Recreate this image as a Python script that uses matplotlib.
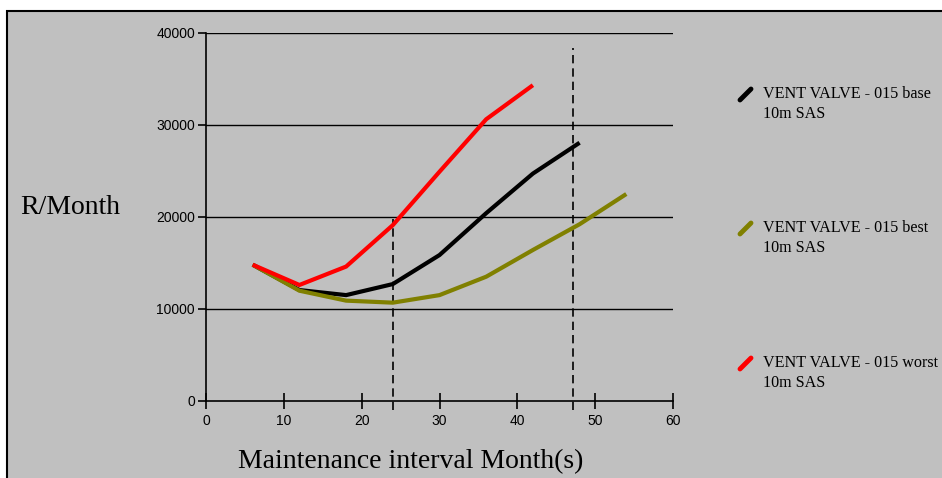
import matplotlib
matplotlib.use("Agg")
import matplotlib.pyplot as plt
from matplotlib.lines import Line2D
from matplotlib.patches import Rectangle

x_vals = [6, 12, 18, 24, 30, 36, 42, 48, 54]
base = [14800, 12050, 11500, 12700, 15850, 20400, 24700, 28050]
best = [14800, 11980, 10900, 10680, 11500, 13500, 16400, 19200, 22480]
worst = [14800, 12600, 14600, 19100, 24900, 30600, 34300]
labels = ["VENT VALVE - 015 base\n10m SAS",
          "VENT VALVE - 015 best\n10m SAS",
          "VENT VALVE - 015 worst\n10m SAS"]
colors = ["#000000", "#808000", "#ff0000"]
vlines = [(24, 19800), (47.2, 38300)]
xticks = [0, 10, 20, 30, 40, 50, 60]
yticks = [0, 10000, 20000, 30000, 40000]

W, H = 942, 478
fig = plt.figure(figsize=(W / 100, H / 100), dpi=100)
fig.patch.set_facecolor("white")
# gray panel with black border on top/left
fig.add_artist(Rectangle((7 / W, -0.1), 1.2, (H - 11) / H + 0.1, transform=fig.transFigure,
                         facecolor="#c0c0c0", edgecolor="black", linewidth=1.5, zorder=0))

ax = fig.add_axes([206 / W, 77 / H, (673 - 206) / W, (401 - 32.7) / H])
ax.set_facecolor("none")
ax.set_xlim(0, 60)
ax.set_ylim(0, 40000)
for s in ["top", "right"]:
    ax.spines[s].set_visible(False)
for s in ["left", "bottom"]:
    ax.spines[s].set_linewidth(1.2)
    ax.spines[s].set_color("black")

for yv in yticks[1:]:
    ax.axhline(yv, color="black", linewidth=1.0, zorder=1)

for xv, top in vlines:
    ax.plot([xv, xv], [-1000, top], color="black", linewidth=1.2,
            linestyle=(0, (5, 3)), zorder=2, clip_on=False)

series = [base, best, worst]
for ys, c in zip(series, colors):
    ax.plot(x_vals[:len(ys)], ys, color=c, linewidth=3.0, solid_capstyle="butt",
            solid_joinstyle="miter", zorder=3)

ax.set_xticks(xticks)
ax.set_yticks(yticks)
ax.set_xticklabels([str(v) for v in xticks], fontfamily="Liberation Sans", fontsize=10)
ax.set_yticklabels([str(v) for v in yticks], fontfamily="Liberation Sans", fontsize=10)
ax.tick_params(axis="x", direction="inout", length=11, width=1.2, pad=4, colors="black")
ax.tick_params(axis="y", direction="out", length=6, width=1.2, pad=2, colors="black")

fig.text(70 / W, 1 - 208 / H, "R/Month", fontfamily="Liberation Serif", fontsize=20,
         ha="center", va="center")
fig.text(411 / W, 1 - 462 / H, "Maintenance interval Month(s)", fontfamily="Liberation Serif",
         fontsize=20, ha="center", va="center")

# legend
leg_y = [93, 227, 362]
for lab, c, yy in zip(labels, colors, leg_y):
    fig.add_artist(Line2D([740 / W, 751 / W], [1 - (yy + 7) / H, 1 - (yy - 4) / H],
                          transform=fig.transFigure, color=c, linewidth=3.5,
                          solid_capstyle="round"))
    fig.text(763 / W, 1 - (yy - 7) / H, lab, fontfamily="Liberation Serif", fontsize=11.6,
             ha="left", va="top", linespacing=1.35)

fig.savefig("out.png", dpi=100, facecolor=fig.get_facecolor())
